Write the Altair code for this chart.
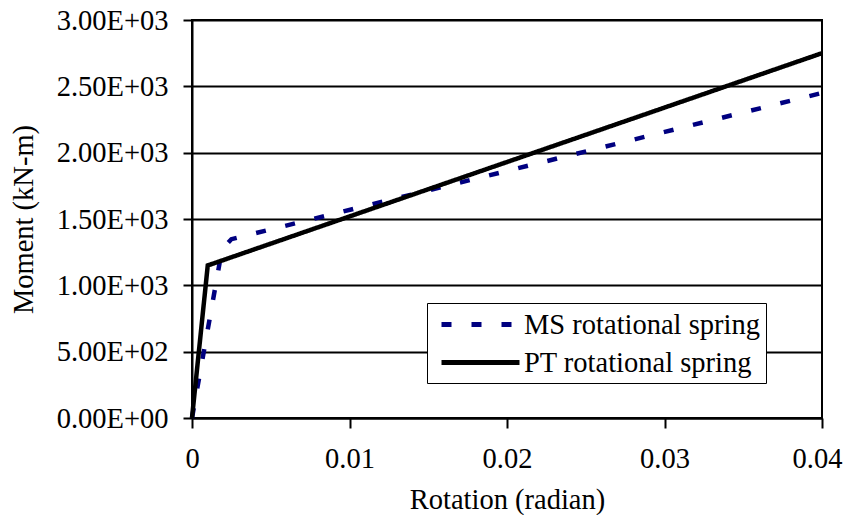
import altair as alt
import pandas as pd

# ---- data ----
series_names = ["MS rotational spring", "PT rotational spring"]
ms_rotation = [0.0, 0.0018, 0.0022, 0.0025, 0.04]
ms_moment = [0, 1200, 1310, 1348, 2450]
pt_rotation = [0.0, 0.001, 0.04]
pt_moment = [0, 1150, 2750]
x_ticks = [0, 0.01, 0.02, 0.03, 0.04]
y_ticks = [0, 500, 1000, 1500, 2000, 2500, 3000]

rows = []
for i, (x, y) in enumerate(zip(ms_rotation, ms_moment)):
    rows.append({"series": series_names[0], "rotation": x, "moment": y, "order": i})
for i, (x, y) in enumerate(zip(pt_rotation, pt_moment)):
    rows.append({"series": series_names[1], "rotation": x, "moment": y, "order": i})
df = pd.DataFrame(rows)

FONT = "Liberation Serif"
FS = 28.5

legend_kw = dict(
    title=None,
    orient="none",
    legendX=235,
    legendY=283,
    direction="vertical",
    strokeColor="black",
    fillColor="white",
    padding=6,
    symbolType="M-3,0L3,0",
    symbolSize=676,
    symbolStrokeWidth=5,
    symbolOffset=32,
    labelOffset=28,
    labelFont=FONT,
    labelFontSize=FS,
    labelColor="black",
    labelLimit=500,
    rowPadding=8,
)

y_label_expr = (
    "datum.value == 0 ? '0.00E+00' : "
    "format(datum.value / pow(10, floor(log(datum.value) / LN10 + 0.000001)), '.2f')"
    " + 'E+0' + floor(log(datum.value) / LN10 + 0.000001)"
)

chart = (
    alt.Chart(df)
    .mark_line(strokeWidth=4.5, strokeCap="butt", strokeJoin="miter")
    .encode(
        x=alt.X(
            "rotation:Q",
            scale=alt.Scale(domain=[0, 0.04], nice=False),
            axis=alt.Axis(
                values=x_ticks,
                title="Rotation (radian)",
                grid=False,
                labelFlush=False,
                labelExpr="datum.value == 0 ? '0' : format(datum.value, '.2f')",
                labelOffset={"condition": {"test": "datum.value > 0.035", "value": -5}, "value": 0},
                tickSize=10,
                labelPadding=16,
                titlePadding=13,
            ),
        ),
        y=alt.Y(
            "moment:Q",
            scale=alt.Scale(domain=[0, 3000], nice=False),
            axis=alt.Axis(
                values=y_ticks,
                title="Moment (kN-m)",
                grid=True,
                gridColor="black",
                gridWidth=2,
                gridOpacity=1,
                labelFlush=False,
                labelExpr=y_label_expr,
                tickSize=9,
                labelPadding=15,
                titlePadding=18,
            ),
        ),
        color=alt.Color(
            "series:N",
            scale=alt.Scale(domain=series_names, range=["#000080", "#000000"]),
            legend=alt.Legend(**legend_kw),
        ),
        strokeDash=alt.StrokeDash(
            "series:N",
            scale=alt.Scale(domain=series_names, range=[[10, 20], [1, 0]]),
            legend=alt.Legend(**legend_kw),
        ),
        order="order:Q",
    )
    .properties(
        width=630,
        height=398,
        autosize=alt.AutoSizeParams(type="none"),
        padding={"left": 184, "top": 12, "right": 21, "bottom": 97},
        background="white",
    )
    .configure_view(stroke="black", strokeWidth=2)
    .configure_axis(
        domainColor="black",
        domainWidth=2,
        tickColor="black",
        tickWidth=2,
        labelFont=FONT,
        labelFontSize=FS,
        labelColor="black",
        titleFont=FONT,
        titleFontSize=FS,
        titleFontWeight="normal",
        titleColor="black",
    )
)

chart.save("out.html", embed_options={"renderer": "svg", "actions": False})
